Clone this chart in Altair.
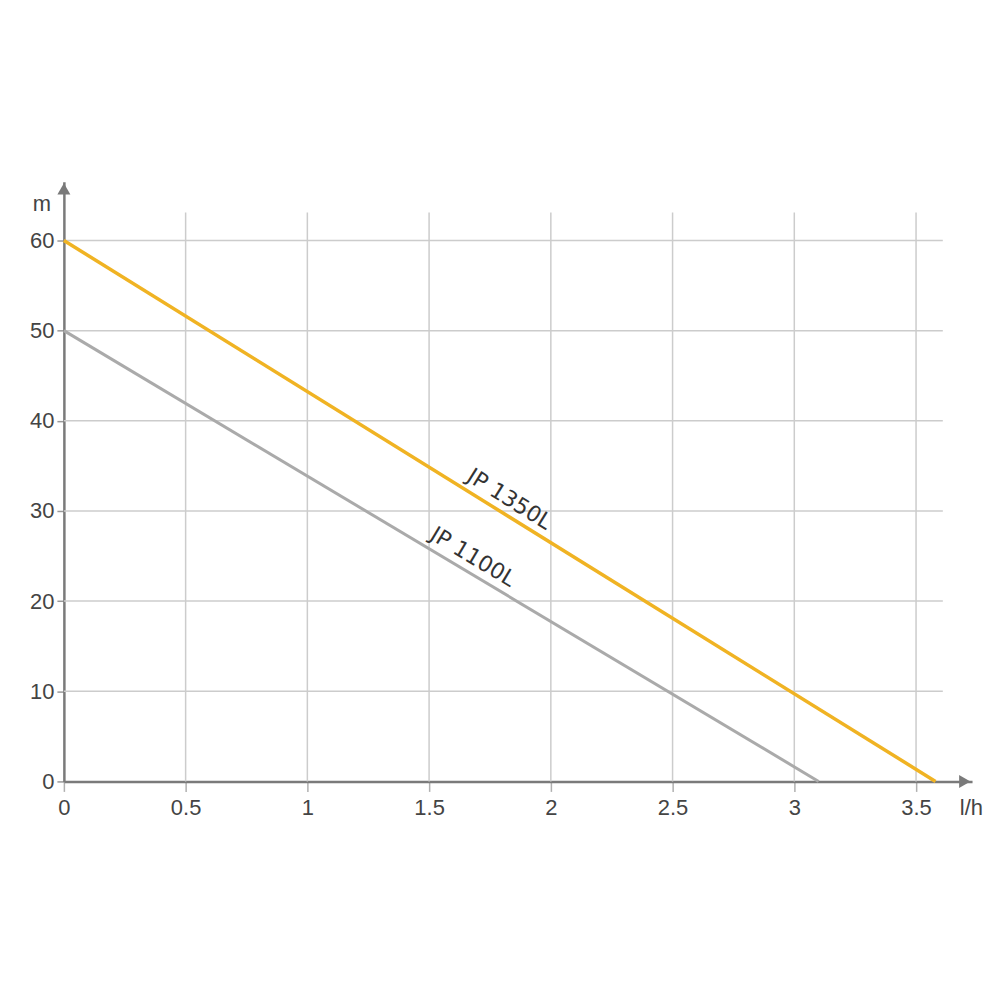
import altair as alt
import pandas as pd

# data
flow_1350 = [0.0, 3.58]
head_1350 = [60, 0]
flow_1100 = [0.0, 3.1]
head_1100 = [50, 0]
x_ticks = [0, 0.5, 1, 1.5, 2, 2.5, 3, 3.5]
y_ticks = [0, 10, 20, 30, 40, 50, 60]
labels = ["JP 1350L", "JP 1100L"]
label_x = [1.83, 1.68]
label_y = [31.3, 24.9]
label_angle = [32, 31]

XMAX = 3.73
YMAX = 66.53
GRID_XMAX = 3.61
GRID_YMAX = 63.1

xs = alt.Scale(domain=[0, XMAX], nice=False, zero=False)
ys = alt.Scale(domain=[0, YMAX], nice=False, zero=False)

xaxis = alt.Axis(values=x_ticks, format="~r", grid=False, domainColor="#7a7a7a",
                 domainWidth=2.5, tickColor="#b0b0b0", tickSize=10, tickWidth=1.5,
                 labelFontSize=22, labelColor="#444444", labelFont="Liberation Sans",
                 labelPadding=6, labelFlush=False, title=None)
yaxis = alt.Axis(values=y_ticks, format="d", grid=False, domainColor="#7a7a7a",
                 domainWidth=2.5, tickColor="#999999", tickSize=7, tickWidth=1.5,
                 labelFontSize=22, labelColor="#444444", labelFont="Liberation Sans",
                 labelPadding=3, labelFlush=False, title=None)

hgrid = pd.DataFrame({"y": y_ticks[1:], "x": 0.0, "x2": GRID_XMAX})
vgrid = pd.DataFrame({"x": x_ticks[1:], "y": 0.0, "y2": GRID_YMAX})

X = lambda: alt.X("x:Q", scale=xs, axis=xaxis)
Y = lambda: alt.Y("y:Q", scale=ys, axis=yaxis)

hg = alt.Chart(hgrid).mark_rule(color="#cccccc", strokeWidth=1.5).encode(
    x=X(), x2="x2:Q", y=Y())
vg = alt.Chart(vgrid).mark_rule(color="#cccccc", strokeWidth=1.5).encode(
    x=X(), y=Y(), y2="y2:Q")

l1350 = alt.Chart(pd.DataFrame({"x": flow_1350, "y": head_1350})).mark_line(
    color="#f0b323", strokeWidth=3.5).encode(x=X(), y=Y())
l1100 = alt.Chart(pd.DataFrame({"x": flow_1100, "y": head_1100})).mark_line(
    color="#aaaaaa", strokeWidth=3).encode(x=X(), y=Y())

texts = []
for t, lx, ly, a in zip(labels, label_x, label_y, label_angle):
    texts.append(alt.Chart(pd.DataFrame({"x": [lx], "y": [ly], "t": [t]})).mark_text(
        angle=a, fontSize=22, font="DejaVu Sans", color="#333333").encode(
        x=X(), y=Y(), text="t:N"))

arrow_x = alt.Chart(pd.DataFrame({"x": [XMAX - 0.03], "y": [0]})).mark_point(
    shape="triangle-right", filled=True, size=170, color="#7a7a7a", opacity=1).encode(
    x=X(), y=Y())
arrow_y = alt.Chart(pd.DataFrame({"x": [0], "y": [YMAX - 0.8]})).mark_point(
    shape="triangle-up", filled=True, size=170, color="#7a7a7a", opacity=1).encode(
    x=X(), y=Y())

unit_m = alt.Chart(pd.DataFrame({"x": [-0.09], "y": [64.0], "t": ["m"]})).mark_text(
    fontSize=22, font="Liberation Sans", color="#444444").encode(
    x=X(), y=Y(), text="t:N")
unit_lh = alt.Chart(pd.DataFrame({"x": [3.68], "y": [-3.0], "t": ["l/h"]})).mark_text(
    fontSize=22, font="Liberation Sans", color="#444444", align="left").encode(
    x=X(), y=Y(), text="t:N")

chart = alt.layer(hg, vg, l1100, l1350, *texts, arrow_x, arrow_y, unit_m, unit_lh).properties(
    width=910, height=601,
    autosize=alt.AutoSizeParams(type="none"),
    padding={"left": 56, "top": 173, "right": 20, "bottom": 200},
).configure_view(strokeWidth=0)

chart.save("out.html", embed_options={"renderer": "svg", "actions": False})
